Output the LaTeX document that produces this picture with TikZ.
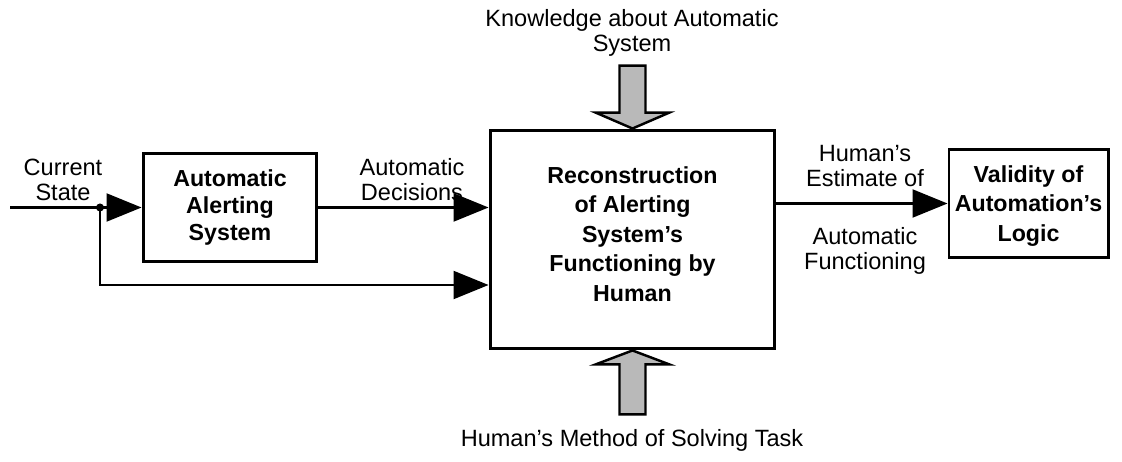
\documentclass[tikz,border=0pt]{standalone}
\usepackage{fontspec}
\setmainfont{Liberation Sans}
\usetikzlibrary{arrows.meta, positioning, calc}

\begin{document}
\begin{tikzpicture}[x=0.02cm, y=-0.02cm, >={Triangle[length=0.7cm, width=0.56cm]}, line width=1.2pt]
  % Styles
  \tikzset{blockbox/.style={draw=black, line width=1.7pt, align=center, font=\fontsize{13.2}{15.4}\selectfont\bfseries}}
  \tikzset{flowlabel/.style={align=center, font=\fontsize{13.4}{14.3}\selectfont}}
  \tikzset{fatarrow/.style={fill=gray!55, draw=black, line width=1.4pt, line join=miter}}

  \useasboundingbox (0,0) rectangle (1122,462);

  % --- Nodes ---
  \node[blockbox, minimum width=3.48cm, minimum height=2.18cm] (alert) at (230,207.5) {Automatic\\Alerting\\System};
  \node[blockbox, minimum width=5.7cm, minimum height=4.38cm, text depth=0.22cm,
        font=\fontsize{13.2}{16.8}\selectfont\bfseries] (recon) at (632.5,239.5)
        {Reconstruction\\of Alerting\\System's\\Functioning by\\Human};
  \node[blockbox, minimum width=3.18cm, minimum height=2.18cm, text depth=-0.18cm,
        font=\fontsize{13.2}{17}\selectfont\bfseries] (valid) at (1028.5,203.5)
        {Validity of\\Automation's\\Logic};

  % Labels
  \node[flowlabel] (curstate) at (63,180) {Current\\State};
  \node[flowlabel] (autodec) at (412,180) {Automatic\\Decisions};
  \node[flowlabel] (estimate) at (865,166) {Human's\\Estimate of};
  \node[flowlabel] (autofunc) at (865,251) {Automatic\\Functioning};
  \node[flowlabel] (knowledge) at (632,33) {Knowledge about Automatic\\System};
  \node[flowlabel] (method) at (632,440) {Human's Method of Solving Task};

  % Branch points
  \coordinate (instart) at (10,207.5);
  \coordinate (split) at (100,207.5);
  \coordinate (lowcorner) at (100,285);

  % --- Connectors ---
  \draw (instart) -- (split);
  \fill (split) circle (4);
  \draw[->] (split) -- (alert.west);
  \draw[->] (split) -- (lowcorner) -- (lowcorner -| recon.west);
  \draw[->] (alert.east) -- (alert.east -| recon.west);
  \draw[->] (recon.east |- valid.west) -- (valid.west);

  % Gray input arrows
  \draw[fatarrow, shift={(recon.north)}] (0,0) -- (-37,-16) -- (-13,-16) -- (-13,-63) -- (13,-63) -- (13,-16) -- (37,-16) -- cycle;
  \draw[fatarrow, shift={(recon.south)}] (0,0) -- (-37,14) -- (-13,14) -- (-13,64) -- (13,64) -- (13,14) -- (37,14) -- cycle;

\end{tikzpicture}
\end{document}
